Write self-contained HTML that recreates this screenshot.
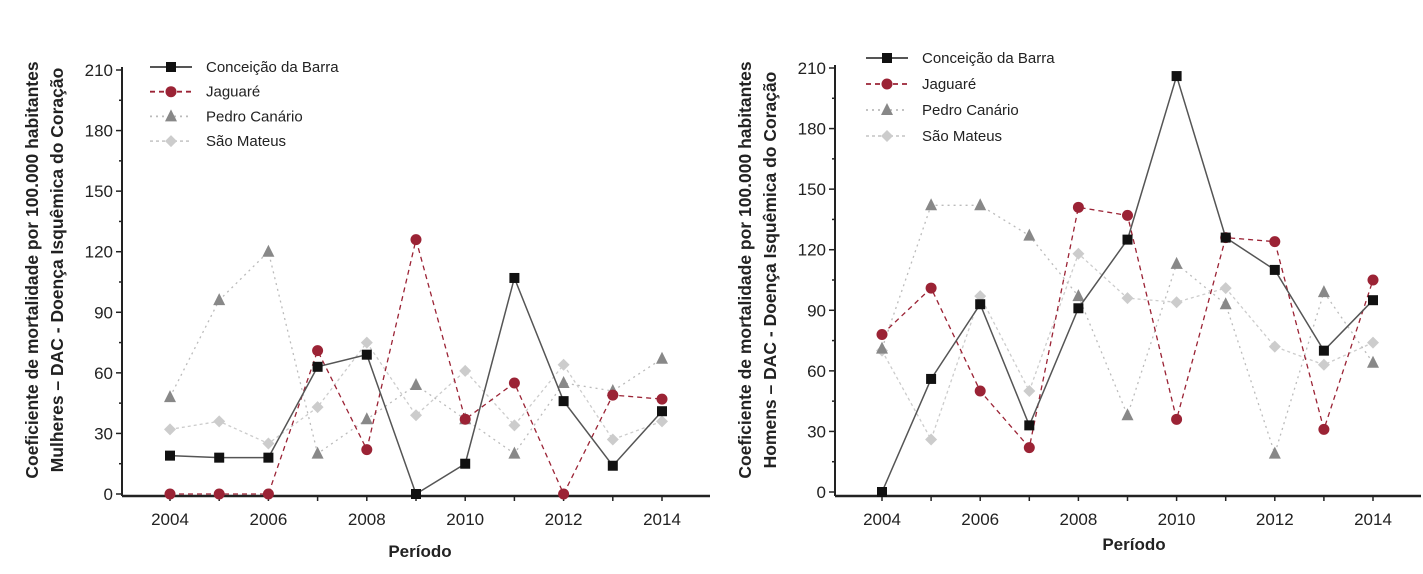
<!DOCTYPE html>
<html><head><meta charset="utf-8">
<style>
html,body{margin:0;padding:0;background:#fff;}
svg{display:block;font-family:"Liberation Sans",sans-serif;}
</style></head>
<body>
<svg id="chart" width="1423" height="574" viewBox="0 0 1423 574" xmlns="http://www.w3.org/2000/svg"></svg>
<script>
const years = [2004,2005,2006,2007,2008,2009,2010,2011,2012,2013,2014];
const yTicks = [0,30,60,90,120,150,180,210];
const xTickLabels = [2004,2006,2008,2010,2012,2014];
const seriesNames = ["Conceição da Barra","Jaguaré","Pedro Canário","São Mateus"];
const womenCB  = [19,18,18,63,69,0,15,107,46,14,41];
const womenJag = [0,0,0,71,22,126,37,55,0,49,47];
const womenPC  = [48,96,120,20,37,54,37,20,55,51,67];
const womenSM  = [32,36,25,43,75,39,61,34,64,27,36];
const menCB  = [0,56,93,33,91,125,206,126,110,70,95];
const menJag = [78,101,50,22,141,137,36,126,124,31,105];
const menPC  = [71,142,142,127,97,38,113,93,19,99,64];
const menSM  = [70,26,97,50,118,96,94,101,72,63,74];

const NS="http://www.w3.org/2000/svg";
const svg=document.getElementById('chart');
function mk(tag,attrs,parent){const e=document.createElementNS(NS,tag);for(const k in attrs)e.setAttribute(k,attrs[k]);(parent||svg).appendChild(e);return e;}

const styles=[
 {stroke:"#555",dash:"",mark:"square",fill:"#111",w:1.5},
 {stroke:"#9b2335",dash:"5,4",mark:"circle",fill:"#9b2335",w:1.3},
 {stroke:"#bbb",dash:"2,4",mark:"tri",fill:"#888",w:1.3},
 {stroke:"#ccc",dash:"3,3",mark:"diamond",fill:"#ccc",w:1.3}
];

function marker(g,type,x,y,fill){
  let e;
  if(type==="square") e=mk('rect',{x:x-5,y:y-5,width:10,height:10,fill:fill},g);
  else if(type==="circle") e=mk('circle',{cx:x,cy:y,r:5.5,fill:fill},g);
  else if(type==="tri") e=mk('polygon',{points:`${x},${y-7} ${x+6},${y+5} ${x-6},${y+5}`,fill:fill},g);
  else e=mk('polygon',{points:`${x},${y-6} ${x+6},${y} ${x},${y+6} ${x-6},${y}`,fill:fill},g);
  return e;
}

function chart(cfg){
  const g=mk('g',{});
  
  
  const X=v=>cfg.x0+(v-2004)*(cfg.x1-cfg.x0)/10;
  const Y=v=>cfg.y0-v*(cfg.y0-cfg.y210)/210;
  // axes
  const ya=mk('line',{x1:cfg.ax,y1:cfg.y210-3,x2:cfg.ax,y2:cfg.axisY,stroke:"#222","stroke-width":2},g);
  
  const xa=mk('line',{x1:cfg.ax,y1:cfg.axisY,x2:cfg.axEnd,y2:cfg.axisY,stroke:"#222","stroke-width":2.5},g);
  
  for(let v=0;v<=210;v+=15){
    const major=v%30===0;
    mk('line',{x1:cfg.ax-(major?6:3),y1:Y(v),x2:cfg.ax,y2:Y(v),stroke:"#222","stroke-width":1.5},g);
  }
  yTicks.forEach(v=>{
    const t=mk('text',{x:cfg.ax-9,y:Y(v)+6,"text-anchor":"end","font-size":17,fill:"#222"},g);
    t.textContent=v;
    
  });
  years.forEach(yr=>mk('line',{x1:X(yr),y1:cfg.axisY,x2:X(yr),y2:cfg.axisY+5,stroke:"#222","stroke-width":1.5},g));
  xTickLabels.forEach(yr=>{
    const t=mk('text',{x:X(yr),y:cfg.axisY+29,"text-anchor":"middle","font-size":17,fill:"#222"},g);
    t.textContent=yr;
    
  });
  const xt=mk('text',{x:cfg.xTitleX,y:cfg.xTitleY,"text-anchor":"middle","font-size":17,"font-weight":"bold",fill:"#222"},g);
  xt.textContent="Período";
  
  const yt=mk('text',{transform:`translate(${cfg.ytx},${cfg.yty}) rotate(-90)`,"text-anchor":"middle","font-size":17.5,"font-weight":"bold",fill:"#222"},g);
  
  const l1=mk('tspan',{x:0,y:0},yt);l1.textContent="Coeficiente de mortalidade por 100.000 habitantes";
  const l2=mk('tspan',{x:0,y:25},yt);l2.textContent=cfg.group+" – DAC - Doença Isquêmica do Coração";
  // series (draw light ones first)
  [3,2,1,0].forEach(i=>{
    const s=styles[i],data=cfg.data[i];
    const pts=data.map((v,j)=>X(years[j])+","+Y(v)).join(" ");
    const pl=mk('polyline',{points:pts,fill:"none",stroke:s.stroke,"stroke-width":s.w,"stroke-dasharray":s.dash},g);
    
    data.forEach((v,j)=>{
      const m=marker(g,s.mark,X(years[j]),Y(v),s.fill);
      
    });
  });
  // legend
  seriesNames.forEach((n,i)=>{
    const s=styles[i],y=cfg.legY+i*cfg.legDy;
    const lg=mk('g',{},g);
    
    mk('line',{x1:cfg.legX,y1:y,x2:cfg.legX+42,y2:y,stroke:s.stroke,"stroke-width":s.w+0.5,"stroke-dasharray":s.dash},lg);
    marker(lg,s.mark,cfg.legX+21,y,s.fill);
    const t=mk('text',{x:cfg.legX+56,y:y+5,"font-size":15,fill:"#222"},lg);
    t.textContent=n;
  });
}

chart({name:'women-chart',group:'Mulheres',x0:170,x1:662,y0:494,y210:70,ax:122,axEnd:710,axisY:496,
  xTitleX:420,xTitleY:557,ytx:38,yty:270,legX:150,legY:67,legDy:24.7,
  data:[womenCB,womenJag,womenPC,womenSM]});
chart({name:'men-chart',group:'Homens',x0:882,x1:1373,y0:492,y210:68,ax:835,axEnd:1421,axisY:496,
  xTitleX:1134,xTitleY:550,ytx:751,yty:270,legX:866,legY:58,legDy:26,
  data:[menCB,menJag,menPC,menSM]});
</script>
</body></html>
